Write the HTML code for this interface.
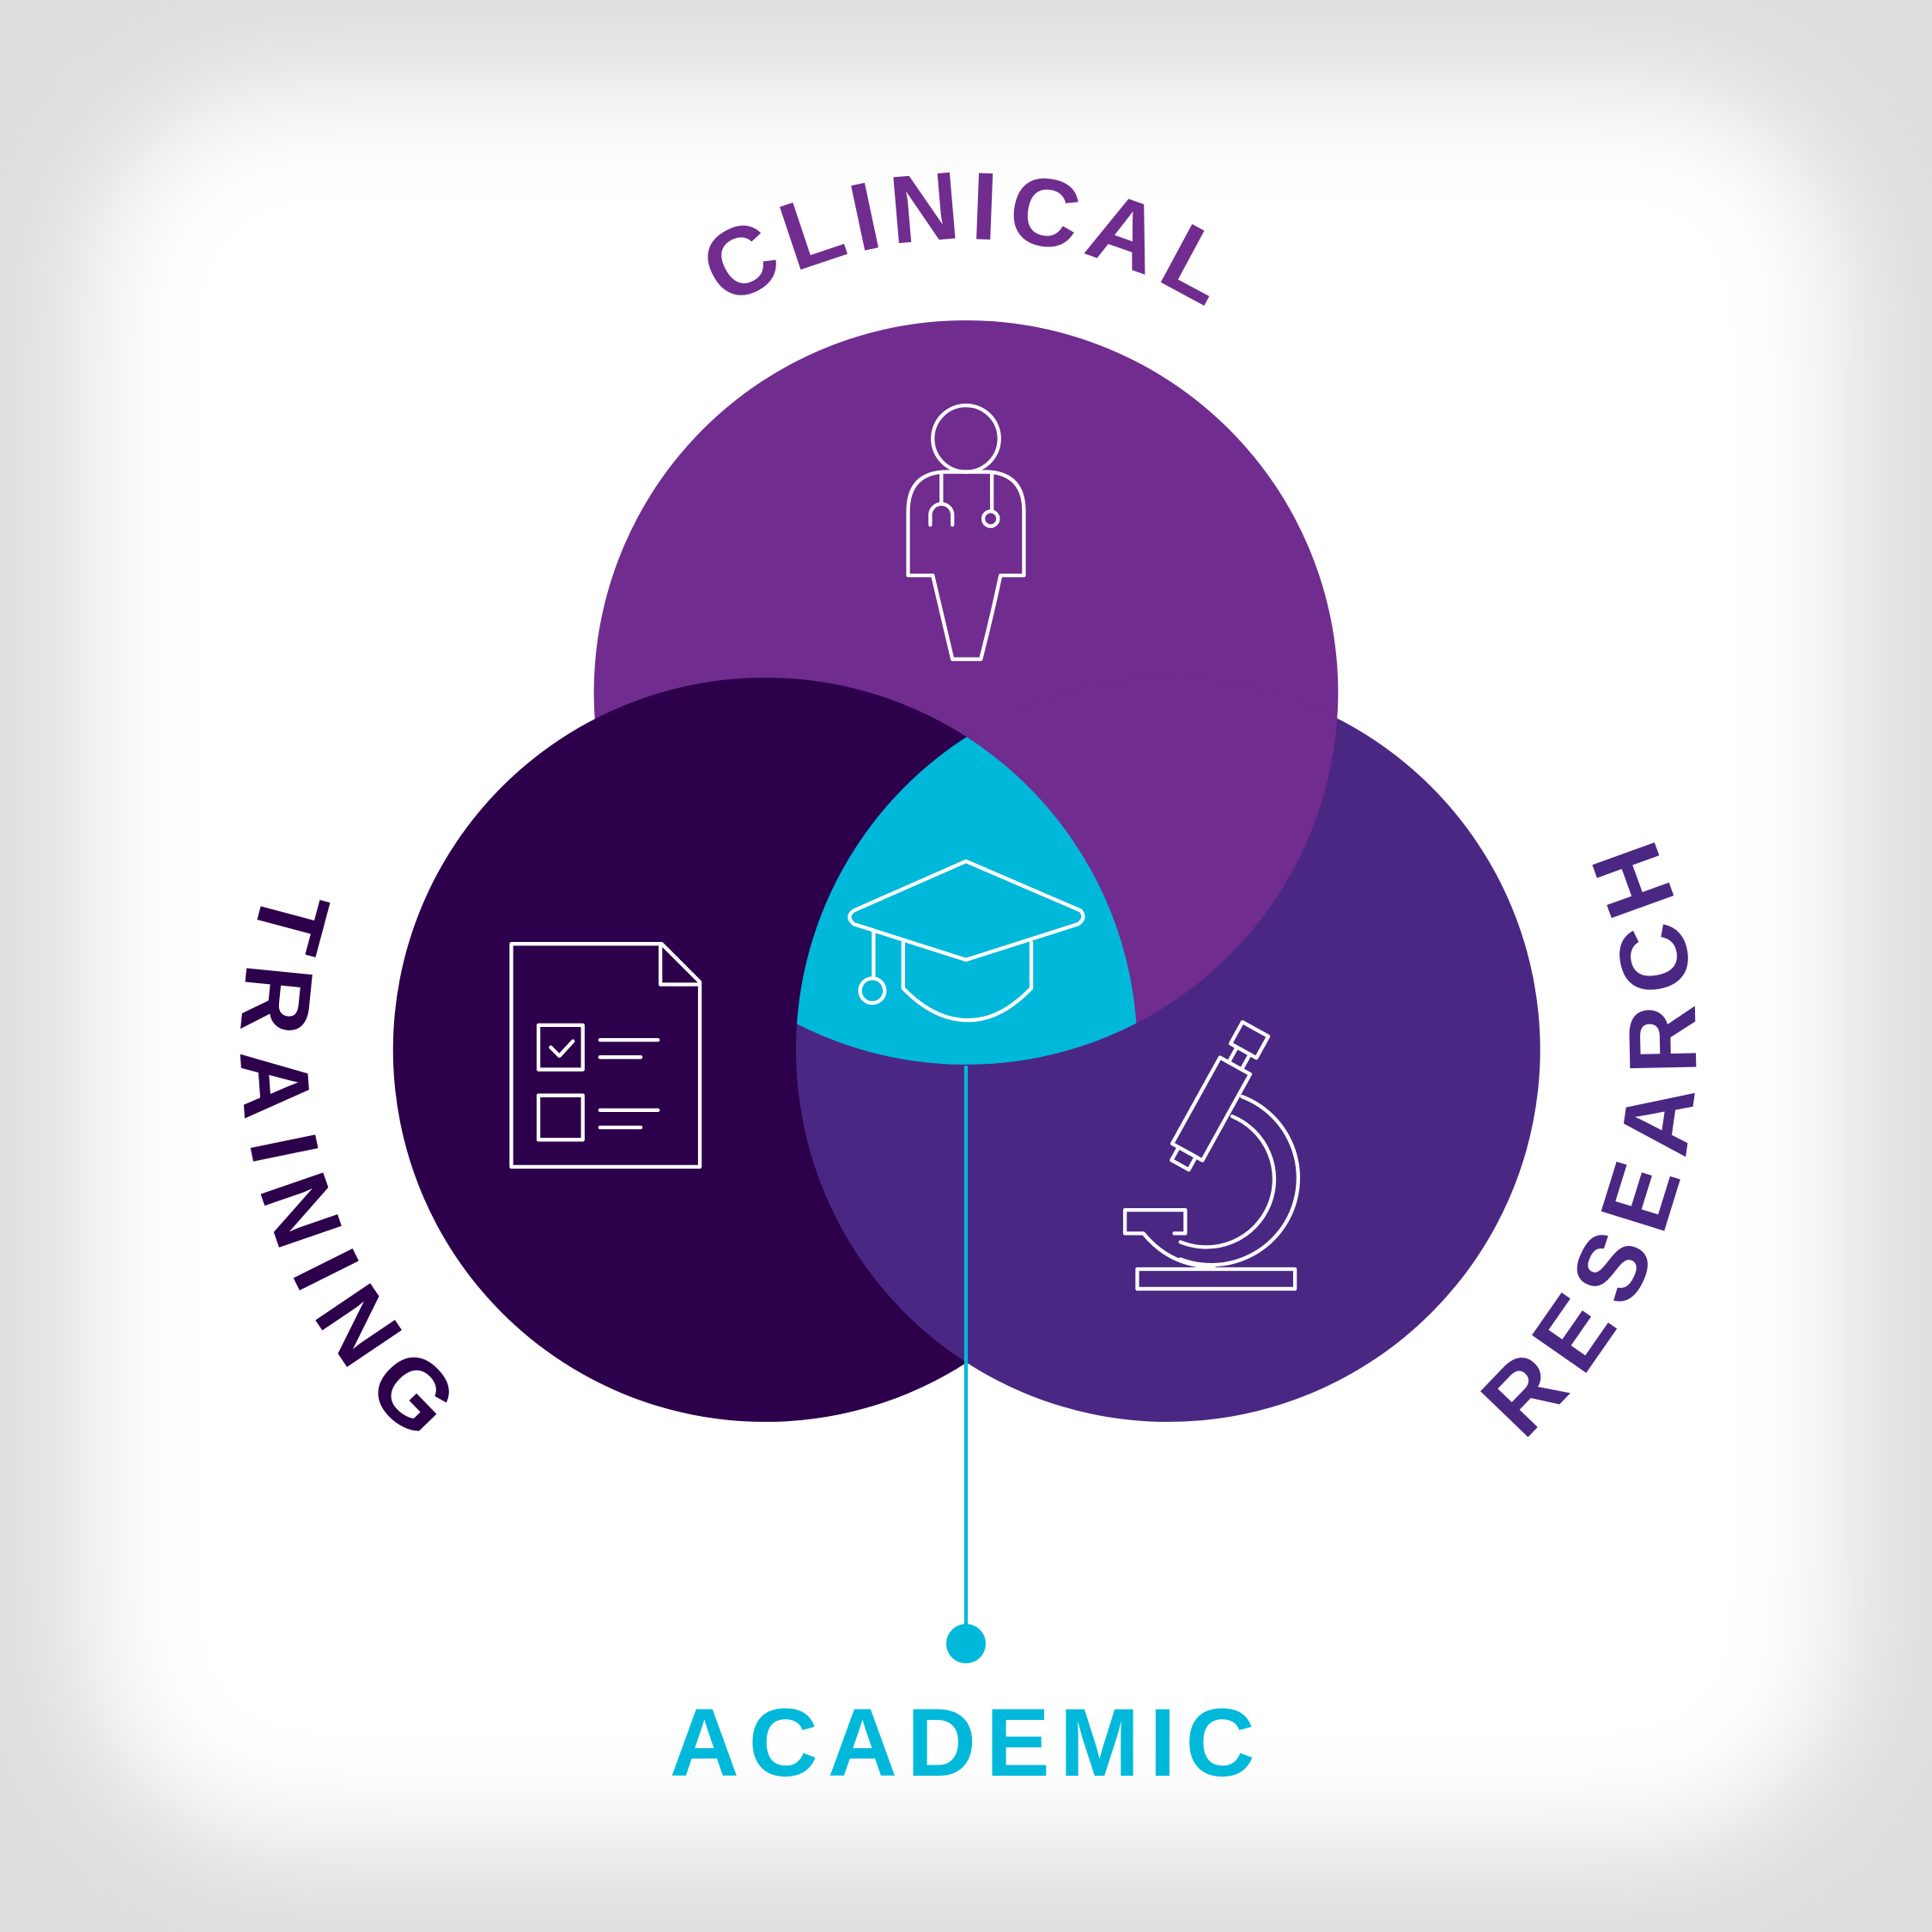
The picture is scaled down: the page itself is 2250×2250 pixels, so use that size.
<!DOCTYPE html>
<html><head><meta charset="utf-8"><style>
html,body{margin:0;padding:0;background:#e0e0e0}
svg{display:block}
</style></head><body>
<svg width="2250" height="2250" viewBox="0 0 1568 1568" xmlns="http://www.w3.org/2000/svg">
<defs>
<filter id="bl" x="-20%" y="-20%" width="140%" height="140%"><feGaussianBlur stdDeviation="45"/></filter>
<clipPath id="cR"><circle cx="948" cy="852" r="302"/></clipPath>
<clipPath id="cL"><circle cx="621" cy="852" r="302"/></clipPath>
<path id="pC" d="M 416,562 A 368,368 0 0 1 1152,562"/>
<path id="pTr" d="M 510.2,438.6 A 428,428 0 0 0 731.8,1265.4"/>
<path id="pRs" d="M 858.6,1272.6 A 430,430 0 0 0 1037.4,431.4"/>
</defs>
<rect width="1568" height="1568" fill="#dedede"/>
<rect x="70" y="70" width="1428" height="1428" rx="170" fill="#fff" filter="url(#bl)"/>

<circle cx="784" cy="562" r="302" fill="#702c8f"/>
<circle cx="621" cy="852" r="302" fill="#2c004b"/>
<circle cx="948" cy="852" r="302" fill="#4a2783"/>
<circle cx="784" cy="562" r="302" fill="#702c8f" clip-path="url(#cR)"/>
<g clip-path="url(#cL)"><circle cx="784" cy="562" r="302" fill="#00b9da" clip-path="url(#cR)"/></g>

<line x1="784" y1="865" x2="784" y2="1322" stroke="#00b9da" stroke-width="3"/>
<circle cx="784" cy="1334" r="16" fill="#00b9da"/>

<g fill="none" stroke="#fff" stroke-width="3" stroke-linejoin="round" stroke-linecap="round">
<circle cx="784" cy="356" r="27"/>
<path d="M737,467 L737,415 Q737,385 765,383 L803,383 Q831,385 831,415 L831,467 L812,467 Q805,500 796,535 L773,535 L757,467 Z"/>
<path d="M764,385 L764,408 M755,426 L755,418 A9,9 0 0 1 773,418 L773,426 M805,385 L805,414"/>
<circle cx="804" cy="421" r="6"/>
<path d="M784,699 L877,739 Q882,745 875,750 L784,779 L693,750 Q686,744 693,739 Z"/>
<path d="M733,765 L733,802 Q758,828 786,828 Q812,828 837,802 L837,765"/>
<path d="M709,755 L709,793"/>
<circle cx="708" cy="804" r="10"/>
<path d="M415,766 L537,766 L568,797 L568,947 L415,947 Z M536,766 L536,799 L568,799"/>
<rect x="437" y="832" width="36" height="36"/>
<rect x="437" y="889" width="36" height="36"/>
<path d="M447,850 L454,857 L465,845 M487,844 L534,844 M487,858 L520,858 M487,901 L534,901 M487,915 L520,915"/>
<g transform="rotate(29 983 900)">
<rect x="969" y="860" width="28" height="80"/>
<rect x="971" y="826" width="24" height="20"/>
<path d="M977,846 L977,860 M989,846 L989,860"/>
<rect x="975" y="940" width="16" height="12"/>
</g>
<path d="M1008,890 A70,70 0 1 1 958,1022"/>
<path d="M1000,906 A55,55 0 1 1 958,1008"/>
<path d="M913,982 L962,982 L962,1001 L953,1001 M913,982 L913,1001 L928,1001 Q950,1028 985,1028"/>
<rect x="923" y="1030" width="128" height="16"/>
</g>

<g font-family="Liberation Sans, sans-serif" font-weight="bold" font-size="78">
<text fill="#702c8f"><textPath href="#pC" startOffset="50%" text-anchor="middle" textLength="411" lengthAdjust="spacing">CLINICAL</textPath></text>
<text fill="#2c004b"><textPath href="#pTr" startOffset="50%" text-anchor="middle" textLength="495" lengthAdjust="spacing">TRAINING</textPath></text>
<text fill="#4a2783"><textPath href="#pRs" startOffset="50%" text-anchor="middle" textLength="535" lengthAdjust="spacing">RESEARCH</textPath></text>
<text x="781" y="1441" fill="#00b9da" text-anchor="middle" textLength="475" lengthAdjust="spacing">ACADEMIC</text>
</g>
</svg>
</body></html>
